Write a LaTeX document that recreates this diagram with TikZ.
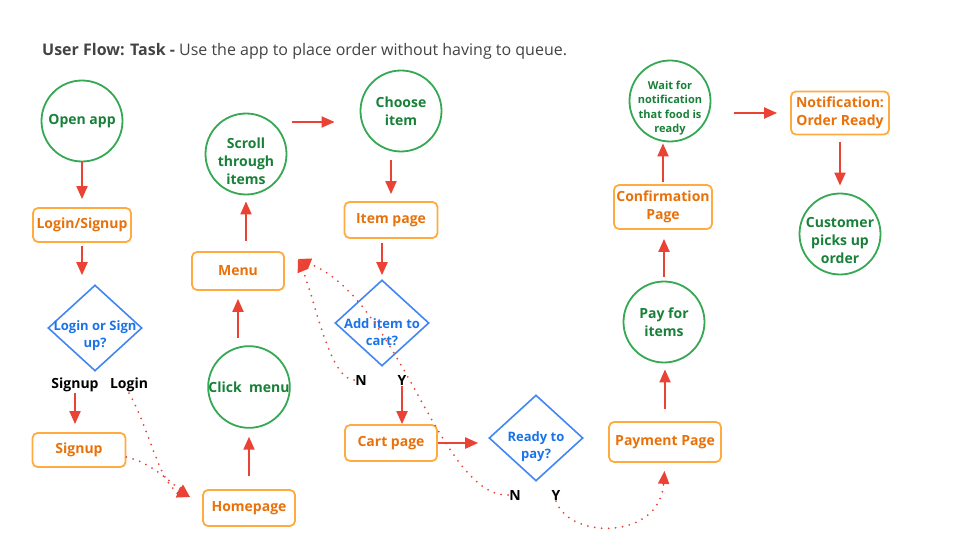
\documentclass[tikz,border=0pt]{standalone}
\usepackage{fontspec}
\setmainfont{Open Sans}
\usetikzlibrary{arrows.meta, shapes.geometric, positioning}

\definecolor{actgreen}{HTML}{34A853}
\definecolor{acttext}{HTML}{188038}
\definecolor{pageorange}{HTML}{FFAB40}
\definecolor{pagetext}{HTML}{E8710A}
\definecolor{askblue}{HTML}{4285F4}
\definecolor{asktext}{HTML}{1A73E8}
\definecolor{flowred}{HTML}{EA4335}
\definecolor{titlegray}{HTML}{434343}

\tikzset{
    act/.style={circle, draw=actgreen, line width=1.8pt, text=acttext, minimum size=81pt,
        inner sep=0pt, align=center, font=\fontsize{14}{18}\selectfont\bfseries},
    actlabel/.style={text=acttext, align=center, inner sep=0pt, font=\fontsize{14}{18}\selectfont\bfseries},
    page/.style={rectangle, rounded corners=5pt, draw=pageorange, line width=1.8pt, text=pagetext,
        inner sep=2pt, align=center, font=\fontsize{14}{18}\selectfont\bfseries},
    ask/.style={diamond, draw=askblue, line width=1.6pt, minimum width=94pt, minimum height=86pt, inner sep=0pt},
    asklabel/.style={text=asktext, align=center, inner sep=0pt, font=\fontsize{13}{17}\selectfont\bfseries},
    answer/.style={text=black, inner sep=1pt, font=\fontsize{14}{16}\selectfont\bfseries},
    go/.style={-{Triangle[length=13pt, width=11pt]}, draw=flowred, line width=2pt},
    back/.style={go, line cap=round, dash pattern=on 0pt off 7pt},
}

\begin{document}
\begin{tikzpicture}[x=1pt, y=-1pt]
        \useasboundingbox (0,0) rectangle (960,540);

        \node[anchor=base west, inner sep=0pt, text=titlegray, font=\fontsize{16}{19}\selectfont] (title) at (42,56)
            {\textbf{User Flow: Task -} Use the app to place order without having to queue.};

        % login branch
        \node[act] (openapp) at (82,121) {Open app};
        \node[page, minimum width=98pt, minimum height=34pt] (login) at (82,225) {Login/Signup};
        \node[ask] (logask) at (95,328) {};
        \node[asklabel] (logasklabel) at ([yshift=-8pt]logask.center) {Login or Sign\\up?};
        \node[answer] (signuplbl) at (75,385) {Signup};
        \node[answer] (loginlbl) at (129,385) {Login};
        \node[page, minimum width=93pt, minimum height=34pt] (signup) at (79,450) {Signup};

        % menu branch
        \node[page, minimum width=92pt, minimum height=36pt] (homepage) at (249,508) {Homepage};
        \node[act] (clickmenu) at (249,387) {Click\ \ menu};
        \node[page, minimum width=92pt, minimum height=38pt] (menu) at (238,271) {Menu};
        \node[act] (scroll) at (246,154) {};
        \node[actlabel] (scrolllabel) at ([yshift=-7pt]scroll.center) {Scroll\\through\\items};

        % item branch
        \node[act] (choose) at (401,111) {Choose\\item};
        \node[page, minimum width=93pt, minimum height=36pt] (itempage) at (391,220) {Item page};
        \node[ask] (addask) at (382,323) {};
        \node[asklabel] (addasklabel) at ([yshift=-9pt]addask.center) {Add item to\\cart?};
        \node[answer] (nadd) at (361,380) {N};
        \node[answer] (yadd) at (402,380) {Y};
        \node[page, minimum width=92pt, minimum height=36pt] (cart) at (391,443) {Cart page};
        \node[ask] (readyask) at (536,438) {};
        \node[asklabel] (readyasklabel) at ([yshift=-9pt]readyask.center) {Ready to\\pay?};
        \node[answer] (nready) at (515,495) {N};
        \node[answer] (yready) at (556,495) {Y};

        % payment branch
        \node[page, minimum width=112pt, minimum height=40pt] (payment) at (665,442) {Payment Page};
        \node[act] (payfor) at (664,322) {Pay for\\items};
        \node[page, minimum width=98pt, minimum height=44pt] (confirm) at (663,207) {Confirmation\\Page};
        \node[act] (wait) at (670,101) {};
        \node[actlabel, font=\fontsize{11}{14.5}\selectfont\bfseries] (waitlabel) at ([yshift=-7pt]wait.center)
            {Wait for\\notification\\that food is\\ready};
        \node[page, minimum width=98pt, minimum height=43pt] (notify) at (840,113) {Notification:\\Order Ready};
        \node[act] (customer) at (840,234) {};
        \node[actlabel] (customerlabel) at ([yshift=-6pt]customer.center) {Customer\\picks up\\order};

        \coordinate (hometip) at (190,497);
        \coordinate (menutip) at (298,259);

        \path
            (openapp) edge[go, shorten >=8pt] (openapp |- login.north)
            (login) edge[go, shorten <=3pt, shorten >=9pt] (login |- logask.north)
            (signuplbl) edge[go, shorten >=8pt] (signuplbl |- signup.north)
            (homepage) edge[go, shorten <=13pt, shorten >=8pt] (homepage |- clickmenu.south)
            (menu |- clickmenu.north) edge[go, shorten <=7pt, shorten >=8pt] (menu)
            (scroll |- menu.north) edge[go, shorten <=10pt, shorten >=6pt] (scroll)
            ([yshift=32pt]scroll.east) edge[go, shorten <=5pt, shorten >=25pt] ([yshift=32pt]scroll.east -| choose.west)
            (itempage |- choose.south) edge[go, shorten <=8pt, shorten >=7pt] (itempage)
            (addask |- itempage.south) edge[go, shorten <=4pt, shorten >=4pt] (addask)
            (yadd) edge[go] (yadd |- cart.north)
            (cart) edge[go, shorten >=10pt] (cart.east -| readyask.west)
            (payment) edge[go, shorten <=12pt, shorten >=6pt] (payment |- payfor.south)
            (payfor) edge[go, shorten <=4pt, shorten >=9pt] (payfor |- confirm.south)
            (confirm) edge[go, shorten <=2pt, shorten >=1pt] (confirm |- wait.south)
            (notify.west -| wait.east) edge[go, shorten <=23pt, shorten >=13pt] (notify)
            (notify) edge[go, shorten <=7pt, shorten >=7pt] (notify |- customer.north)
            ;

        % the dotted ways back and forward
        \draw[back] (loginlbl.south) .. controls (148,425) and (160,485) .. (hometip);
        \draw[back] ([yshift=-7pt]signup.east) .. controls (150,462) and (170,482) .. (hometip);
        \draw[back] (nadd.west) .. controls (330,380) and (315,300) .. (menutip);
        \draw[back] (nready.west) .. controls (440,497) and (400,300) .. (menutip);
        \draw[back, shorten >=8pt] (yready.south) .. controls (570,540) and (660,540) .. (payment.south);
\end{tikzpicture}
\end{document}
